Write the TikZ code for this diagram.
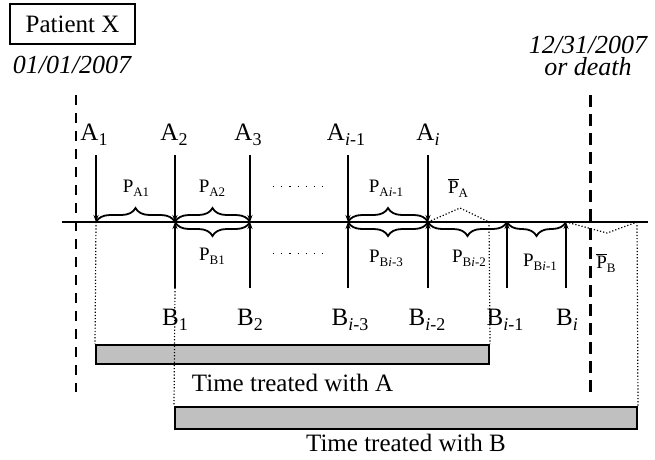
\documentclass[tikz,border=0pt]{standalone}
\usepackage{fontspec}
\setmainfont{Liberation Serif}
\usetikzlibrary{arrows.meta, positioning, decorations.pathreplacing}

\definecolor{bargray}{RGB}{192,192,192}

% lowered subscripts in text font
\newcommand{\lowsub}[1]{\raisebox{-0.2em}{\fontsize{18}{18}\selectfont #1}}
\newcommand{\ptxt}[1]{{\fontsize{19}{19}\selectfont P\raisebox{-0.22em}{\fontsize{13}{13}\selectfont #1}}}
\newcommand{\pbar}[1]{{\fontsize{19}{19}\selectfont $\overline{\mbox{P}}$\raisebox{-0.22em}{\fontsize{13}{13}\selectfont #1}}}

\begin{document}
\begin{tikzpicture}[
    x=1pt, y=-1pt, % pixel-like coordinates, y grows downwards
    font=\fontsize{25}{30}\selectfont,
    >={Stealth[length=7pt, width=5pt]}, % Default arrow tip
    axis/.style={line width=1.5pt}, % Time axis
    fillarrow/.style={->, line width=1.5pt}, % Thin fill arrows
    thickarrow/.style={->, line width=2.8pt}, % Thick fill arrows
    guide/.style={dotted, line width=1.2pt}, % Dotted guides
    yearline/.style={line width=1.4pt, dash pattern=on 10pt off 8pt},
    endline/.style={line width=3pt, dash pattern=on 12pt off 7pt},
    bracestyle/.style={decorate, decoration={brace, amplitude=14pt}, line width=1.8pt},
    bracebelow/.style={decorate, decoration={brace, mirror, amplitude=14pt}, line width=1.8pt},
    datestyle/.style={font=\fontsize{26}{26}\selectfont\itshape, inner sep=0pt},
    labelstyle/.style={anchor=base, inner sep=0pt},
    barstyle/.style={draw, line width=2pt, fill=bargray, inner sep=0pt}
]

    \useasboundingbox (0,0) rectangle (655,459);

    % Heights used throughout
    \def\yaxis{222}
    \def\ytop{155}
    \def\ybot{288}

    % Patient box and study dates
    \node[draw, line width=1.8pt, minimum width=125pt, minimum height=40pt, inner sep=0pt] (patient) at (72.5,24) {Patient X};
    \node[datestyle] (start) at (72,65) {01/01/2007};
    \node[datestyle] (end) at (588,45) {12/31/2007};
    \node[datestyle, below=3pt of end] (death) {or death};

    % Study window
    \coordinate (janTop) at (76,95);
    \coordinate (janBot) at (76,392);
    \coordinate (decTop) at (590,95);
    \coordinate (decBot) at (590,392);
    \draw[yearline] (janTop) -- (janBot);
    \draw[endline] (decTop) -- (decBot);

    % Time axis
    \coordinate (axisL) at (62,\yaxis);
    \coordinate (axisR) at (648,\yaxis);
    \draw[axis] (axisL) -- (axisR);

    % Fill dates on the axis
    \foreach \n/\x in {a1/96, a2/175, a3/250, ai1/348, ai/428, bi1/507, bi/566, aend/489, bend/637} {
        \coordinate (\n) at (\x,\yaxis);
        \coordinate (\n-top) at (\x,\ytop);
        \coordinate (\n-bot) at (\x,\ybot);
    }

    % Fills of A (from above) and of B (from below)
    \draw[fillarrow] (a1-top) -- (a1);
    \foreach \n in {a2, a3} {
        \draw[thickarrow] (\n-top) -- (\n);
        \draw[thickarrow] (\n-bot) -- (\n);
    }
    \foreach \n in {ai1, ai} {
        \draw[fillarrow] (\n-top) -- (\n);
        \draw[fillarrow] (\n-bot) -- (\n);
    }
    \draw[thickarrow] (bi1-bot) -- (bi1);
    \draw[fillarrow] (bi-bot) -- (bi);

    % Fill labels
    \foreach \n/\x/\lab in {A1/94/{A\lowsub{1}}, A2/174/{A\lowsub{2}}, A3/248/{A\lowsub{3}},
                            Ai1/346/{A\lowsub{\textit{i}-1}}, Ai/428/{A\lowsub{\textit{i}}}}
        \node[labelstyle] (\n) at (\x,140) {\lab};
    \foreach \n/\x/\lab in {B1/175/{B\lowsub{1}}, B2/250/{B\lowsub{2}}, Bi3/350/{B\lowsub{\textit{i}-3}},
                            Bi2/427/{B\lowsub{\textit{i}-2}}, Bi1/505/{B\lowsub{\textit{i}-1}}, Bi/567/{B\lowsub{\textit{i}}}}
        \node[labelstyle] (\n) at (\x,325) {\lab};

    % Supply periods
    \draw[bracestyle] (a1) -- (a2);
    \draw[bracestyle] (a2) -- (a3);
    \draw[bracestyle] (ai1) -- (ai);
    \draw[bracebelow] (a2) -- (a3);
    \draw[bracebelow] (ai1) -- (ai);
    \draw[bracebelow] (ai) -- (bi1);
    \draw[bracebelow] (bi1) -- (bi);

    % Supply after the last fill
    \coordinate (pApeak) at (460,208);
    \coordinate (pBpeak) at (607,233);
    \draw[guide] (ai) -- (pApeak) -- (aend);
    \draw[guide] (bi) -- (pBpeak) -- (bend);

    % Period labels
    \node[labelstyle] (pA1) at (136,192) {\ptxt{A1}};
    \node[labelstyle] (pA2) at (212,192) {\ptxt{A2}};
    \node[labelstyle] (pAi1) at (386,192) {\ptxt{A\textit{i}-1}};
    \node[labelstyle] (pAbar) at (458,193) {\pbar{A}};
    \node[labelstyle] (pB1) at (212,260) {\ptxt{B1}};
    \node[labelstyle] (pBi3) at (386,262) {\ptxt{B\textit{i}-3}};
    \node[labelstyle] (pBi2) at (469,262) {\ptxt{B\textit{i}-2}};
    \node[labelstyle] (pBi1) at (540,266) {\ptxt{B\textit{i}-1}};
    \node[labelstyle] (pBbar) at (606,268) {\pbar{B}};

    % Omitted fills
    \coordinate (dotsAL) at (273,186);
    \coordinate (dotsAR) at (323,186);
    \coordinate (dotsBL) at (273,253);
    \coordinate (dotsBR) at (323,253);
    \draw[line width=1pt, dash pattern=on 1.2pt off 7pt] (dotsAL) -- (dotsAR);
    \draw[line width=1pt, dash pattern=on 1.2pt off 7pt] (dotsBL) -- (dotsBR);

    % Treatment bars
    \node[barstyle, minimum width=393pt, minimum height=19pt] (barA) at (292.5,354.5) {};
    \node[barstyle, minimum width=462pt, minimum height=22pt] (barB) at (406,418) {};
    \node[below=7pt of barA, inner sep=2pt] (txtA) {Time treated with A};
    \node[below=2pt of barB, inner sep=2pt] (txtB) {Time treated with B};

    % Guides down to the bars
    \draw[guide] (a1) -- (barA.north west);
    \draw[guide] (aend) -- (barA.north east);
    \draw[guide] (a2-bot) -- (barB.north west);
    \draw[guide] (bend) -- (barB.north east);

\end{tikzpicture}
\end{document}
